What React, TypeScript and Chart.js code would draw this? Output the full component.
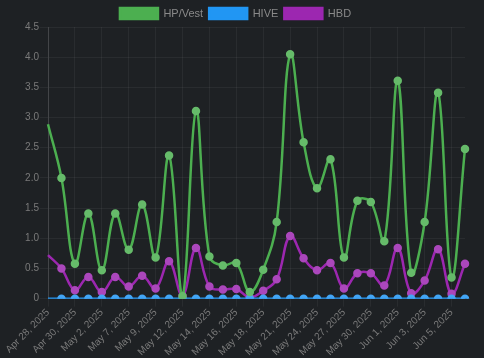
import React, { useEffect, useRef } from "react";
import { Chart, registerables } from "chart.js";

Chart.register(...registerables);

const dates = [
  "Apr 28, 2025", "Apr 29, 2025", "Apr 30, 2025", "May 1, 2025", "May 2, 2025", "May 5, 2025",
  "May 7, 2025", "May 8, 2025", "May 9, 2025", "May 11, 2025", "May 12, 2025", "May 13, 2025",
  "May 14, 2025", "May 15, 2025", "May 16, 2025", "May 17, 2025", "May 18, 2025", "May 20, 2025",
  "May 21, 2025", "May 22, 2025", "May 24, 2025", "May 26, 2025", "May 27, 2025", "May 28, 2025",
  "May 30, 2025", "May 31, 2025", "Jun 1, 2025", "Jun 2, 2025", "Jun 3, 2025", "Jun 4, 2025",
  "Jun 5, 2025", "Jun 6, 2025",
];

const hpVest = [
  2.89, 2.0, 0.58, 1.41, 0.47, 1.41, 0.81, 1.56, 0.68, 2.37, 0.04, 3.11,
  0.7, 0.55, 0.59, 0.11, 0.48, 1.27, 4.05, 2.59, 1.83, 2.31, 0.68, 1.62,
  1.6, 0.95, 3.61, 0.43, 1.27, 3.41, 0.35, 2.48,
];

const hive = [
  0, 0, 0, 0, 0, 0, 0, 0, 0, 0, 0, 0, 0, 0, 0, 0,
  0, 0, 0, 0, 0, 0, 0, 0, 0, 0, 0, 0, 0, 0, 0, 0,
];

const hbd = [
  0.72, 0.5, 0.14, 0.36, 0.11, 0.36, 0.2, 0.38, 0.17, 0.62, 0.05, 0.84,
  0.2, 0.15, 0.16, 0.02, 0.13, 0.32, 1.04, 0.67, 0.47, 0.59, 0.17, 0.42,
  0.42, 0.22, 0.84, 0.09, 0.3, 0.82, 0.08, 0.58,
];

const radius = (ctx: any) => (ctx.dataIndex === 0 ? 0 : 3);

const legendTrim = {
  id: "legendTrim",
  afterInit(chart: any) {
    const legend = chart.legend;
    if (legend && !legend._trimmed) {
      const orig = legend.fit.bind(legend);
      legend.fit = function () {
        orig();
        this.height -= 2;
      };
      legend._trimmed = true;
    }
  },
};

export default function App() {
  const ref = useRef<HTMLCanvasElement | null>(null);
  useEffect(() => {
    document.body.style.margin = "0";
    document.body.style.background = "#1e2124";
    const chart = new Chart(ref.current as HTMLCanvasElement, {
      type: "line",
      plugins: [legendTrim],
      data: {
        labels: dates,
        datasets: [
          {
            label: "HP/Vest",
            data: hpVest,
            borderColor: "#4caf50",
            backgroundColor: "#4caf50",
            pointBackgroundColor: "#66bb6a",
            pointBorderColor: "#66bb6a",
            borderWidth: 2.5,
            pointRadius: radius,
            tension: 0.4,
          },
          {
            label: "HIVE",
            data: hive,
            borderColor: "#2196f3",
            backgroundColor: "#2196f3",
            pointBackgroundColor: "#42a5f5",
            pointBorderColor: "#42a5f5",
            borderWidth: 2.5,
            pointRadius: radius,
            tension: 0.4,
          },
          {
            label: "HBD",
            data: hbd,
            borderColor: "#9c27b0",
            backgroundColor: "#9c27b0",
            pointBackgroundColor: "#ab47bc",
            pointBorderColor: "#ab47bc",
            borderWidth: 2.5,
            pointRadius: radius,
            tension: 0.4,
          },
        ],
      },
      options: {
        animation: false,
        responsive: false,
        maintainAspectRatio: false,
        layout: { padding: { left: 6, right: 19, top: 2 } },
        plugins: {
          legend: {
            labels: {
              color: "#8a8a8a",
              font: { size: 11 },
              boxWidth: 38,
              padding: 6,
            },
          },
          tooltip: { enabled: false },
        },
        scales: {
          x: {
            grid: { color: "rgba(255,255,255,0.05)" },
            border: { color: "rgba(255,255,255,0.12)" },
            ticks: { color: "#7a7a7a", maxRotation: 45, minRotation: 45, padding: 0, font: { size: 10 } },
          },
          y: {
            min: 0,
            max: 4.5,
            afterFit: (scale: any) => {
              scale.width = 42;
            },
            grid: { color: "rgba(255,255,255,0.05)" },
            border: { color: "rgba(255,255,255,0.12)" },
            ticks: { color: "#7a7a7a", stepSize: 0.5, padding: 1, font: { size: 10 } },
          },
        },
      },
    });
    return () => chart.destroy();
  }, []);
  return (
    <div style={{ width: 484, height: 358, background: "#1e2124" }}>
      <canvas ref={ref} width={484} height={358} />
    </div>
  );
}
